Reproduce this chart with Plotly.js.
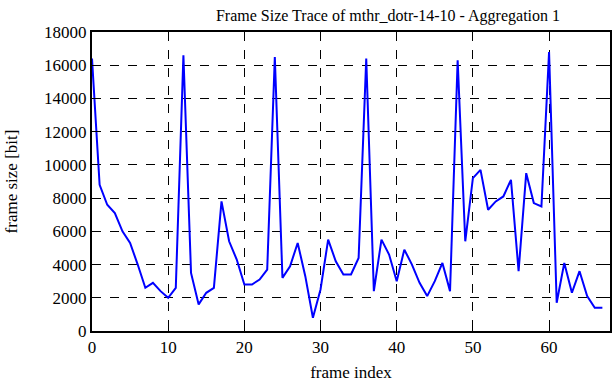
<!DOCTYPE html>
<html><head><meta charset="utf-8">
<script src="https://cdn.plot.ly/plotly-3.0.1.min.js"></script>
<style>body{margin:0;padding:0;background:#fff}#c{width:612px;height:382px}</style>
</head><body><div id="c"></div>
<script>
const frameIndex = [];
for (let i = 0; i <= 67; i++) frameIndex.push(i);
const frameSize = [16400, 8800, 7600, 7100, 6000, 5300, 4000, 2600, 2900, 2400,
  2000, 2600, 16600, 3500, 1600, 2300, 2600, 7800, 5400, 4300,
  2800, 2800, 3100, 3700, 16500, 3200, 3900, 5300, 3300, 800,
  2500, 5500, 4200, 3400, 3400, 4400, 16400, 2400, 5500, 4600,
  3000, 4900, 4000, 2900, 2100, 3000, 4100, 2400, 16300, 5400,
  9200, 9700, 7300, 7800, 8100, 9100, 3600, 9500, 7700, 7500,
  16800, 1700, 4100, 2300, 3600, 2100, 1400, 1400];
const xTicks = [0, 10, 20, 30, 40, 50, 60];
const yTicks = [0, 2000, 4000, 6000, 8000, 10000, 12000, 14000, 16000, 18000];

const font = {family: 'Liberation Serif, Times New Roman, serif', size: 17, color: '#000'};
Plotly.newPlot('c', [{
  x: frameIndex, y: frameSize, type: 'scatter', mode: 'lines',
  line: {color: '#0000ff', width: 2}
}], {
  width: 612, height: 382,
  margin: {l: 92, r: 2, t: 32, b: 51},
  paper_bgcolor: '#fff', plot_bgcolor: '#fff',
  font: font,
  showlegend: false,
  title: {text: 'Frame Size Trace of mthr_dotr-14-10 - Aggregation 1', x: 0.634, xanchor: 'center', y: 0.975, yanchor: 'top', font: {family: font.family, size: 16, color: '#000'}},
  xaxis: {
    range: [0, 68], tickvals: xTicks, ticktext: xTicks.map(String),
    showgrid: true, gridcolor: '#000', griddash: 'dash', gridwidth: 1,
    zeroline: false, showline: true, linecolor: '#000', linewidth: 2, mirror: 'ticks',
    ticks: 'inside', ticklen: 6, tickcolor: '#000', tickwidth: 1,
    tickfont: font,
    title: {text: 'frame index', font: font, standoff: 10}
  },
  yaxis: {
    range: [0, 18000], tickvals: yTicks, ticktext: yTicks.map(String),
    showgrid: true, gridcolor: '#000', griddash: 'dash', gridwidth: 1,
    zeroline: false, showline: true, linecolor: '#000', linewidth: 2, mirror: 'ticks',
    ticks: 'inside', ticklen: 6, tickcolor: '#000', tickwidth: 1,
    tickfont: font,
    title: {text: 'frame size [bit]', font: font, standoff: 22}
  }
}, {displayModeBar: false, staticPlot: true});
</script></body></html>
